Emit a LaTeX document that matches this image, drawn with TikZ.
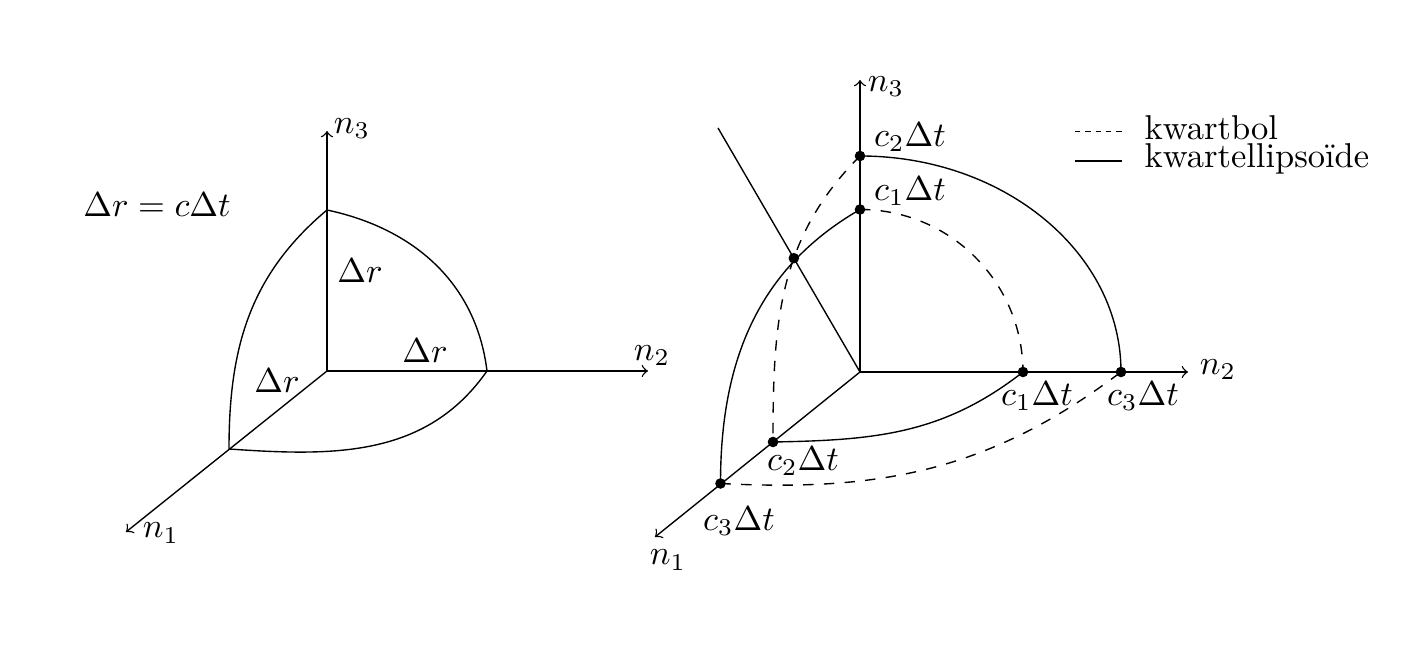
\documentclass[tikz,border=0pt]{standalone}
\usepackage{amsmath}
\usetikzlibrary{intersections}

\begin{document}
\begin{tikzpicture}
  [x=0.0102cm,y=-0.0102cm,>=to,
   legdash/.style={dash pattern=on 1.5pt off 1.5pt}]
  \useasboundingbox (0,0) rectangle (1414,657);

  % linker figuur: kwartbol
  \coordinate (O1) at (327,371);
  \coordinate (a1) at (126,532);
  \coordinate (a2) at (648,371);
  \coordinate (a3) at (327,131);
  \coordinate (p1) at (229,449);
  \coordinate (p2) at (487,371);
  \coordinate (p3) at (327,210);

  \foreach \to in {a1,a2,a3}
    \draw[->] (O1) -- (\to);

  \draw (p3) to[out=-12,in=97] (p2);
  \draw (p3) to[out=220,in=90] (p1);
  \draw (p1) to[out=-4,in=235] (p2);

  \node (la1) at (161,533) {$n_1$};
  \node (la2) at (652,356) {$n_2$};
  \node (la3) at (352,129) {$n_3$};
  \node (lr)  at (157,205) {$\Delta r = c\Delta t$};
  \node (lr3) at (360,271) {$\Delta r$};
  \node (lr2) at (425,351) {$\Delta r$};
  \node (lr1) at (277,381) {$\Delta r$};

  % rechter figuur
  \coordinate (O2) at (860,372);
  \coordinate (b1) at (655,537);
  \coordinate (b2) at (1188,372);
  \coordinate (b3) at (860,80);
  \coordinate (top) at (718,128);
  \coordinate (q13) at (860,209.5);
  \coordinate (q23) at (860,156);
  \coordinate (q12) at (1023,372);
  \coordinate (q32) at (1121,372);
  \coordinate (q21) at (773,442);
  \coordinate (q31) at (720.5,483.5);

  \foreach \to in {b1,b2,b3}
    \draw[->] (O2) -- (\to);
  \draw[name path=ray] (top) -- (O2);

  % kwartbol
  \draw[dashed,name path=bol] (q23) to[out=225,in=90] (q21);
  \draw[dashed] (q13) arc[start angle=-90,end angle=0,radius=163];
  \draw[dashed] (q31) to[out=-3,in=217] (q32);
  % kwartellipsoide
  \draw (q23) arc[start angle=-90,end angle=0,x radius=261,y radius=216];
  \draw (q13) to[out=210,in=90] (q31);
  \draw (q21) to[out=1,in=218] (q12);

  \path[name intersections={of=ray and bol,by=X}];
  \foreach \p in {q13,q23,q12,q32,q21,q31,X}
    \fill (\p) circle[radius=5.3];

  \node (lb1) at (668,560) {$n_1$};
  \node (lb2) at (1218,370) {$n_2$};
  \node (lb3) at (886,87) {$n_3$};
  \node (l23) at (910,137) {$c_2\Delta t$};
  \node (l13) at (910,191) {$c_1\Delta t$};
  \node (l12) at (1037,396) {$c_1\Delta t$};
  \node (l32) at (1143,396) {$c_3\Delta t$};
  \node (l21) at (803,461) {$c_2\Delta t$};
  \node (l31) at (739,521) {$c_3\Delta t$};

  % legende
  \coordinate (k1) at (1075,131.5);
  \coordinate (k2) at (1122,131.5);
  \coordinate (k3) at (1075,161);
  \coordinate (k4) at (1122,161);
  \draw[legdash] (k1) -- (k2);
  \draw (k3) -- (k4);
  \node[anchor=west,inner sep=0pt] (kb) at (1144,128) {kwartbol};
  \node[anchor=west,inner sep=0pt] (ke) at (1144,159) {kwartellipsoïde};
\end{tikzpicture}
\end{document}
